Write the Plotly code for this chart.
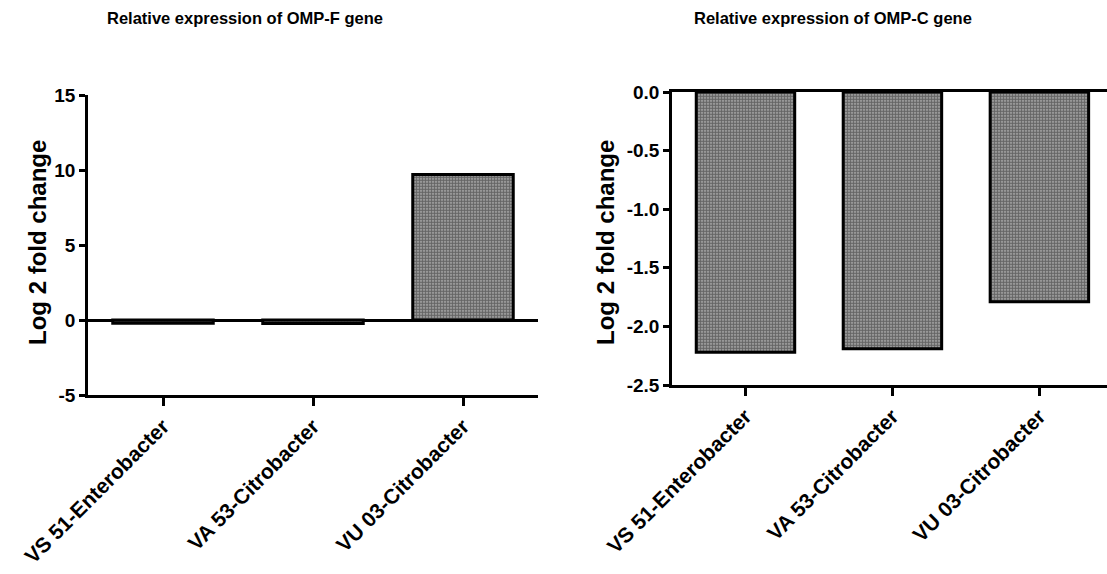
import plotly.graph_objects as go

categories = ["VS 51-Enterobacter", "VA 53-Citrobacter", "VU 03-Citrobacter"]
ompf_values = [-0.22, -0.24, 9.7]
ompc_values = [-2.22, -2.19, -1.79]
ompf_ticks = [-5, 0, 5, 10, 15]
ompf_ticktext = ["-5", "0", "5", "10", "15"]
ompc_ticks = [-2.5, -2.0, -1.5, -1.0, -0.5, 0.0]
ompc_ticktext = ["-2.5", "-2.0", "-1.5", "-1.0", "-0.5", "0.0"]

FONT = "Liberation Sans, Arial, sans-serif"
W, H = 1107, 574

def px_x(p):
    return p / W

def px_y(p):
    return 1 - p / H

bar_style = dict(
    color="#808080",
    line=dict(color="black", width=3),
    pattern=dict(shape=".", size=3, solidity=0.7, fgcolor="#111111", bgcolor="#b8b8b8"),
)

fig = go.Figure()
fig.add_trace(go.Bar(x=categories, y=ompf_values, width=0.67, marker=bar_style,
                     xaxis="x", yaxis="y", showlegend=False))
fig.add_trace(go.Bar(x=categories, y=ompc_values, width=0.67, marker=bar_style,
                     xaxis="x2", yaxis="y2", showlegend=False))

ytickfont = dict(family=FONT, size=19, color="black", weight="bold")
xtickfont = dict(family=FONT, size=21, color="black", weight="bold")
axis_common = dict(showline=True, linecolor="black", linewidth=2.5, ticks="outside",
                   tickcolor="black", tickwidth=2.5, showgrid=False, automargin=False)

fig.update_layout(
    width=W, height=H,
    margin=dict(l=0, r=0, t=0, b=0),
    paper_bgcolor="white", plot_bgcolor="white",
    xaxis=dict(domain=[px_x(88), px_x(538)], range=[-0.5, 2.5], anchor="y",
               tickangle=-45, ticklen=8, zeroline=False, tickfont=xtickfont, **axis_common),
    yaxis=dict(domain=[px_y(395), px_y(95)], range=[-5, 15], anchor="x",
               tickvals=ompf_ticks, ticktext=ompf_ticktext, ticklen=6, zeroline=True,
               zerolinecolor="black", zerolinewidth=2.5, tickfont=ytickfont, **axis_common),
    xaxis2=dict(domain=[px_x(672), 1.0], range=[-0.5, 2.46], anchor="y2",
                tickangle=-45, ticklen=8, zeroline=False, mirror=True, tickfont=xtickfont,
                **axis_common),
    yaxis2=dict(domain=[px_y(385), px_y(92)], range=[-2.5, 0], anchor="x2",
                tickvals=ompc_ticks, ticktext=ompc_ticktext, ticklen=6, zeroline=False,
                tickfont=ytickfont, **axis_common),
)

title_font = dict(family=FONT, size=16.5, color="black", weight="bold")
fig.add_annotation(text="Relative expression of OMP-F gene", x=px_x(245), y=px_y(18),
                   xref="paper", yref="paper", showarrow=False, font=title_font,
                   xanchor="center", yanchor="middle")
fig.add_annotation(text="Relative expression of OMP-C gene", x=px_x(833), y=px_y(18),
                   xref="paper", yref="paper", showarrow=False, font=title_font,
                   xanchor="center", yanchor="middle")

ytitle_font = dict(family=FONT, size=24, color="black", weight="bold")
for xc in (38, 606):
    fig.add_annotation(text="Log 2 fold change", x=px_x(xc), y=px_y(243),
                       xref="paper", yref="paper", showarrow=False, font=ytitle_font,
                       textangle=-90, xanchor="center", yanchor="middle")

fig.write_html("out.html", config={"displayModeBar": False},
               post_script="document.body.style.margin='0';document.body.style.padding='0';")
